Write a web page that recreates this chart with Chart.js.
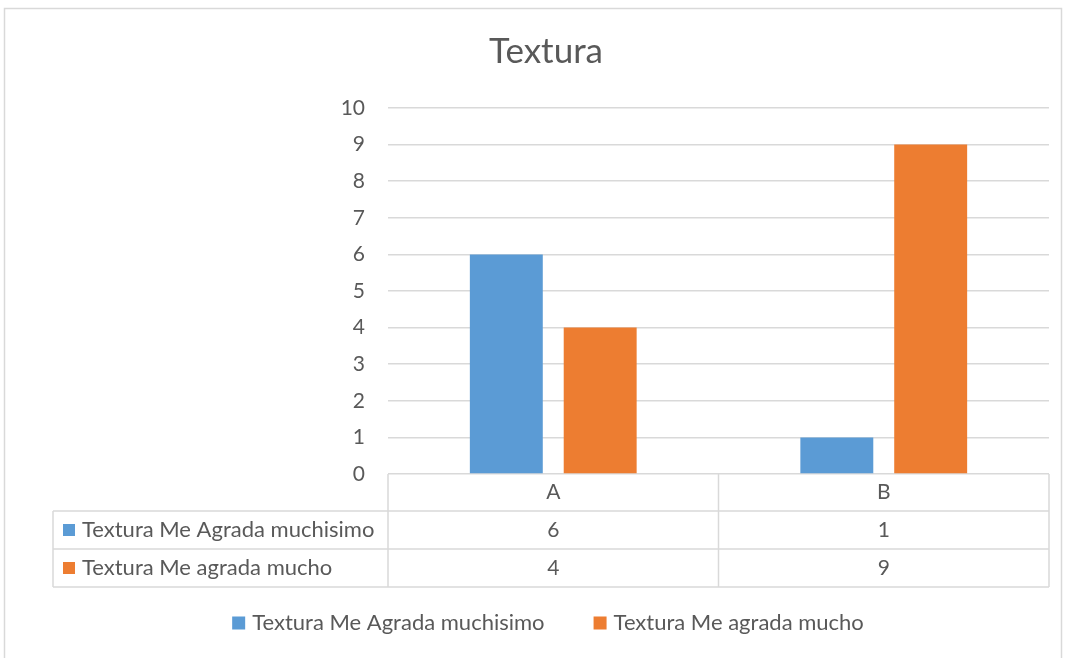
<!DOCTYPE html>
<html>
<head>
<meta charset="utf-8">
<script src="https://cdn.jsdelivr.net/npm/chart.js@4/dist/chart.umd.min.js"></script>
<style>
  html, body { margin: 0; padding: 0; background: #fff; }
  #wrap { width: 1068px; height: 658px; }
</style>
</head>
<body>
<div id="wrap"><canvas id="texturaChart" width="1068" height="658"></canvas></div>
<script>
// Textura chart
const categories = ['A', 'B'];
const seriesNames = ['Textura Me Agrada muchisimo', 'Textura Me agrada mucho'];
const agradaMuchisimo = [6, 1];
const agradaMucho = [4, 9];
const yMax = 10;

const TEXT = '#595959';
const GRID = '#d9d9d9';
const FONT = 'Lato, "Open Sans", sans-serif';

// outer frame around the whole chart object
const framePlugin = {
  id: 'frame',
  beforeDraw(chart) {
    const ctx = chart.ctx;
    ctx.save();
    ctx.fillStyle = '#fff';
    ctx.fillRect(0, 0, chart.width, chart.height);
    ctx.strokeStyle = GRID;
    ctx.lineWidth = 1.5;
    ctx.strokeRect(4.5, 8.5, 1057, 700);
    ctx.restore();
  }
};

// Excel style data table under the plot area, plus the bottom legend
const dataTablePlugin = {
  id: 'dataTable',
  afterDraw(chart) {
    const ctx = chart.ctx;
    const area = chart.chartArea;
    const x = chart.scales.x;
    const top = area.bottom;
    const rowH = [37, 38, 38];
    const tableLeft = 53;
    const half = (x.getPixelForValue(1) - x.getPixelForValue(0)) / 2;

    const y1 = top + rowH[0];
    const y2 = y1 + rowH[1];
    const y3 = y2 + rowH[2];

    ctx.save();
    ctx.strokeStyle = GRID;
    ctx.lineWidth = 1.5;
    ctx.beginPath();
    // column separators
    const cols = [area.left];
    categories.forEach((c, i) => cols.push(x.getPixelForValue(i) + half));
    cols.forEach(cx => { ctx.moveTo(cx, top); ctx.lineTo(cx, y3); });
    ctx.moveTo(tableLeft, y1); ctx.lineTo(tableLeft, y3);
    [y1, y2, y3].forEach(yy => { ctx.moveTo(tableLeft, yy); ctx.lineTo(area.right, yy); });
    ctx.stroke();

    ctx.fillStyle = TEXT;
    ctx.font = '21px ' + FONT;
    ctx.textBaseline = 'middle';
    ctx.textAlign = 'center';
    categories.forEach((c, i) => ctx.fillText(c, x.getPixelForValue(i), top + rowH[0] / 2));

    const rows = [[y1, y2], [y2, y3]];
    chart.data.datasets.forEach((ds, di) => {
      const cy = (rows[di][0] + rows[di][1]) / 2;
      ctx.fillStyle = ds.backgroundColor;
      ctx.fillRect(tableLeft + 10, cy - 6, 12, 12);
      ctx.fillStyle = TEXT;
      ctx.textAlign = 'left';
      ctx.font = '22px ' + FONT;
      ctx.fillText(ds.label, tableLeft + 29, cy);
      ctx.textAlign = 'center';
      ctx.font = '21px ' + FONT;
      ds.data.forEach((v, i) => ctx.fillText(String(v), x.getPixelForValue(i), cy));
    });

    // legend below the table
    const legendY = 623;
    const legendCenter = 548;
    const box = 13, boxGap = 7, itemGap = 49;
    ctx.font = '22px ' + FONT;
    const widths = chart.data.datasets.map(ds => box + boxGap + ctx.measureText(ds.label).width);
    const total = widths.reduce((a, b) => a + b, 0) + itemGap * (widths.length - 1);
    let lx = legendCenter - total / 2;
    ctx.textAlign = 'left';
    chart.data.datasets.forEach((ds, di) => {
      ctx.fillStyle = ds.backgroundColor;
      ctx.fillRect(lx, legendY - box / 2, box, box);
      ctx.fillStyle = TEXT;
      ctx.fillText(ds.label, lx + box + boxGap, legendY);
      lx += widths[di] + itemGap;
    });
    ctx.restore();
  }
};

const ctx = document.getElementById('texturaChart').getContext('2d');
new Chart(ctx, {
  type: 'bar',
  data: {
    labels: categories,
    datasets: [
      { label: seriesNames[0], data: agradaMuchisimo, backgroundColor: '#5b9bd5' },
      { label: seriesNames[1], data: agradaMucho, backgroundColor: '#ed7d31' }
    ]
  },
  options: {
    responsive: false,
    animation: false,
    devicePixelRatio: 1,
    categoryPercentage: 0.568,
    barPercentage: 0.777,
    layout: { padding: { left: 43, right: 19, top: 0, bottom: 56 } },
    scales: {
      x: {
        grid: { display: false },
        border: { display: false },
        ticks: { display: false },
        afterFit(scale) { scale.height = 128; }
      },
      y: {
        min: 0,
        max: yMax,
        ticks: { stepSize: 1, padding: 23, color: TEXT, font: { family: FONT, size: 21 } },
        grid: { color: GRID, lineWidth: 1.5, drawTicks: false },
        border: { display: false },
        afterFit(scale) { scale.width = 345; }
      }
    },
    plugins: {
      title: {
        display: true,
        text: 'Textura',
        color: TEXT,
        font: { family: FONT, size: 35, weight: '400' },
        padding: { top: 31, bottom: 35 }
      },
      legend: { display: false },
      tooltip: { enabled: false }
    }
  },
  plugins: [framePlugin, dataTablePlugin]
});
</script>
</body>
</html>
